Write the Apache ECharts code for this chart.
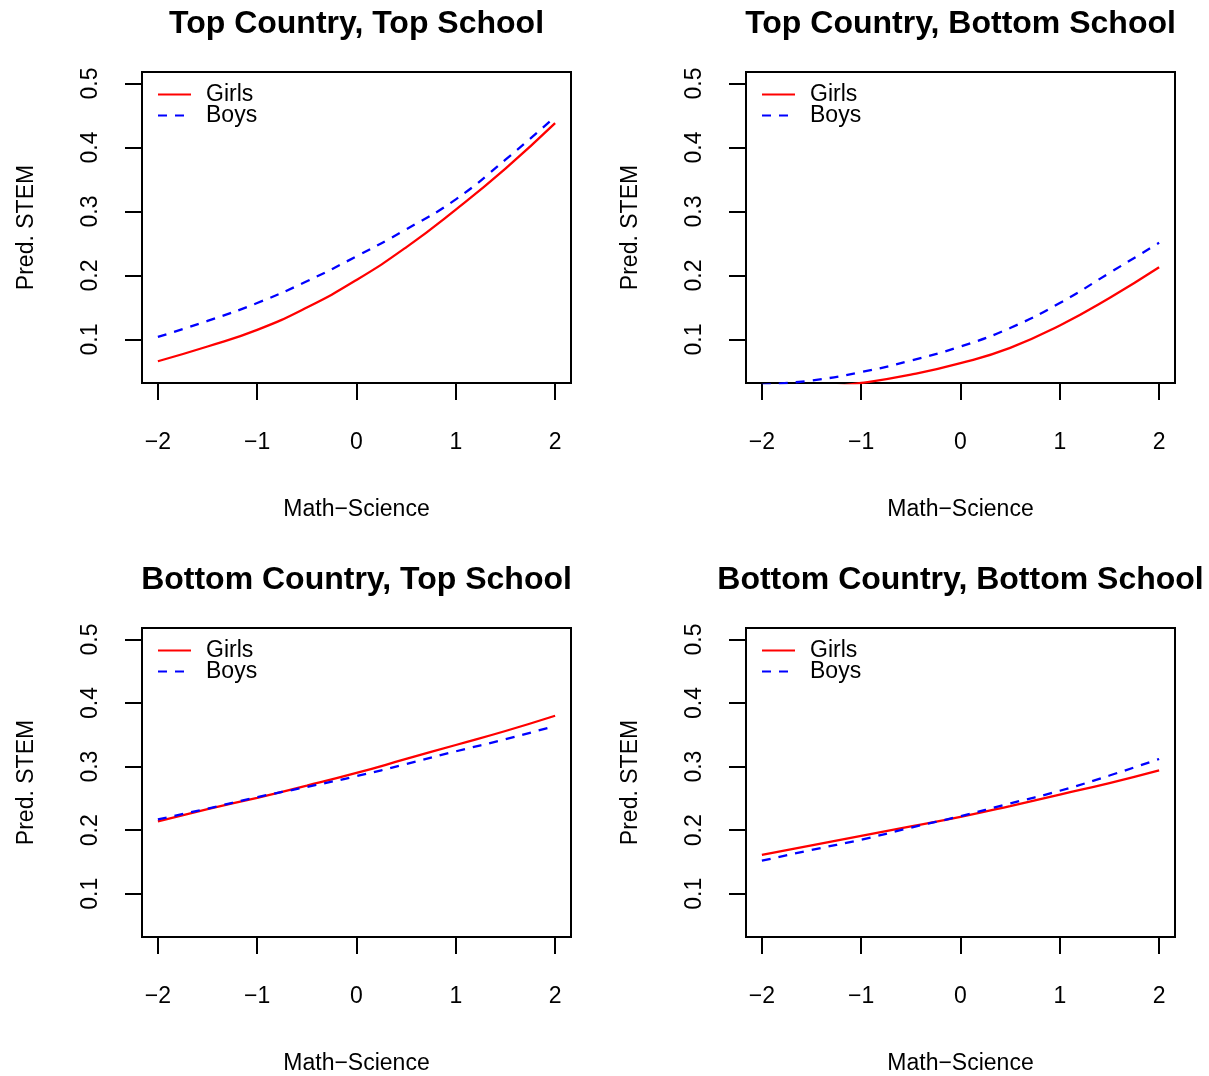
<!DOCTYPE html>
<html>
<head>
<meta charset="utf-8">
<title>Predicted STEM by Math−Science</title>
<script src="https://cdn.jsdelivr.net/npm/echarts@6/dist/echarts.min.js"></script>
<style>
  html, body { margin: 0; padding: 0; background: #ffffff; }
  #chart { width: 1209px; height: 1076px; }
</style>
</head>
<body>
<div id="chart"></div>
<script>
// Math−Science scores at which predictions were made
const mathScience = [-2, -1.5, -1, -0.5, 0, 0.5, 1, 1.5, 2];

// Predicted STEM probability, one array per panel and group
const topTopGirls = [0.066, 0.089, 0.115, 0.150, 0.193, 0.244, 0.303, 0.367, 0.438];
const topTopBoys  = [0.104, 0.129, 0.157, 0.191, 0.230, 0.272, 0.319, 0.381, 0.448];

const topBottomGirls = [0.016, 0.023, 0.032, 0.045, 0.063, 0.087, 0.122, 0.165, 0.213];
const topBottomBoys  = [0.029, 0.036, 0.049, 0.067, 0.089, 0.118, 0.157, 0.204, 0.251];

const bottomTopGirls = [0.214, 0.233, 0.251, 0.270, 0.290, 0.312, 0.334, 0.356, 0.380];
const bottomTopBoys  = [0.217, 0.234, 0.252, 0.268, 0.285, 0.304, 0.324, 0.343, 0.364];

const bottomBottomGirls = [0.161, 0.176, 0.191, 0.206, 0.221, 0.238, 0.256, 0.274, 0.294];
const bottomBottomBoys  = [0.152, 0.169, 0.185, 0.204, 0.222, 0.242, 0.262, 0.286, 0.312];

// Panel titles and tick labels
const panelTitles = [
  'Top Country, Top School',
  'Top Country, Bottom School',
  'Bottom Country, Top School',
  'Bottom Country, Bottom School'
];
const xTicks = [-2, -1, 0, 1, 2];
const yTicks = [0.1, 0.2, 0.3, 0.4, 0.5];
const groupNames = ['Girls', 'Boys'];

const panelData = [
  [topTopGirls, topTopBoys],
  [topBottomGirls, topBottomBoys],
  [bottomTopGirls, bottomTopBoys],
  [bottomBottomGirls, bottomBottomBoys]
];

const FONT = '"Liberation Sans", Arial, Helvetica, sans-serif';
const BOX = { width: 429, height: 311 };
const panelPos = [
  { left: 142, top: 72 },
  { left: 746, top: 72 },
  { left: 142, top: 628 },
  { left: 746, top: 628 }
];

const grids = [], xAxes = [], yAxes = [], titles = [], legends = [], series = [];

panelPos.forEach((p, i) => {
  grids.push({
    left: p.left, top: p.top, width: BOX.width, height: BOX.height,
    show: true, borderColor: '#000', borderWidth: 2, backgroundColor: 'transparent',
    containLabel: false
  });

  xAxes.push({
    type: 'value', gridIndex: i, min: -2.16, max: 2.16,
    name: 'Math−Science', nameLocation: 'middle', nameGap: 115,
    nameTextStyle: { fontFamily: FONT, fontSize: 23, color: '#000' },
    axisLine: { show: false, onZero: false },
    axisTick: { show: true, inside: false, length: 17, customValues: xTicks,
                lineStyle: { color: '#000', width: 2 } },
    axisLabel: { show: true, margin: 48, customValues: xTicks,
                 fontFamily: FONT, fontSize: 23, color: '#000',
                 formatter: v => String(v).replace('-', '\u2212') },
    splitLine: { show: false }
  });

  yAxes.push({
    type: 'value', gridIndex: i, min: 0.032, max: 0.518,
    name: 'Pred. STEM', nameLocation: 'middle', nameGap: 104, nameRotate: 90,
    nameTextStyle: { fontFamily: FONT, fontSize: 23, color: '#000' },
    axisLine: { show: false, onZero: false },
    axisTick: { show: true, inside: false, length: 17, customValues: yTicks,
                lineStyle: { color: '#000', width: 2 } },
    axisLabel: { show: true, margin: 40, rotate: 90, customValues: yTicks,
                 fontFamily: FONT, fontSize: 23, color: '#000',
                 formatter: v => v.toFixed(1) },
    splitLine: { show: false }
  });

  titles.push({
    text: panelTitles[i],
    left: p.left + BOX.width / 2, top: p.top - 64,
    textAlign: 'center', padding: 0,
    textStyle: { fontFamily: FONT, fontSize: 32, fontWeight: 'bold', color: '#000' }
  });

  legends.push({
    data: groupNames,
    orient: 'vertical',
    left: p.left + 15, top: p.top + 11,
    padding: 0, itemGap: -2,
    itemWidth: 33, itemHeight: 14,
    selectedMode: false,
    itemStyle: { opacity: 0 },
    textStyle: { fontFamily: FONT, fontSize: 23, color: '#000', lineHeight: 21,
                 padding: [0, 0, 0, 10] }
  });

  const styles = [
    { color: '#ff0000', type: 'solid' },
    { color: '#0000ff', type: [9, 8] }
  ];
  panelData[i].forEach((vals, g) => {
    series.push({
      name: groupNames[g],
      type: 'line',
      xAxisIndex: i, yAxisIndex: i,
      data: mathScience.map((x, k) => [x, vals[k]]),
      smooth: 0.5,
      showSymbol: false,
      symbol: 'none',
      clip: true,
      silent: true,
      animation: false,
      lineStyle: { color: styles[g].color, width: 2.3, type: styles[g].type },
      itemStyle: { color: styles[g].color }
    });
  });
});

const chart = echarts.init(document.getElementById('chart'), null, { renderer: 'canvas' });
chart.setOption({
  backgroundColor: '#ffffff',
  animation: false,
  title: titles,
  legend: legends,
  grid: grids,
  xAxis: xAxes,
  yAxis: yAxes,
  series: series
});
</script>
</body>
</html>
